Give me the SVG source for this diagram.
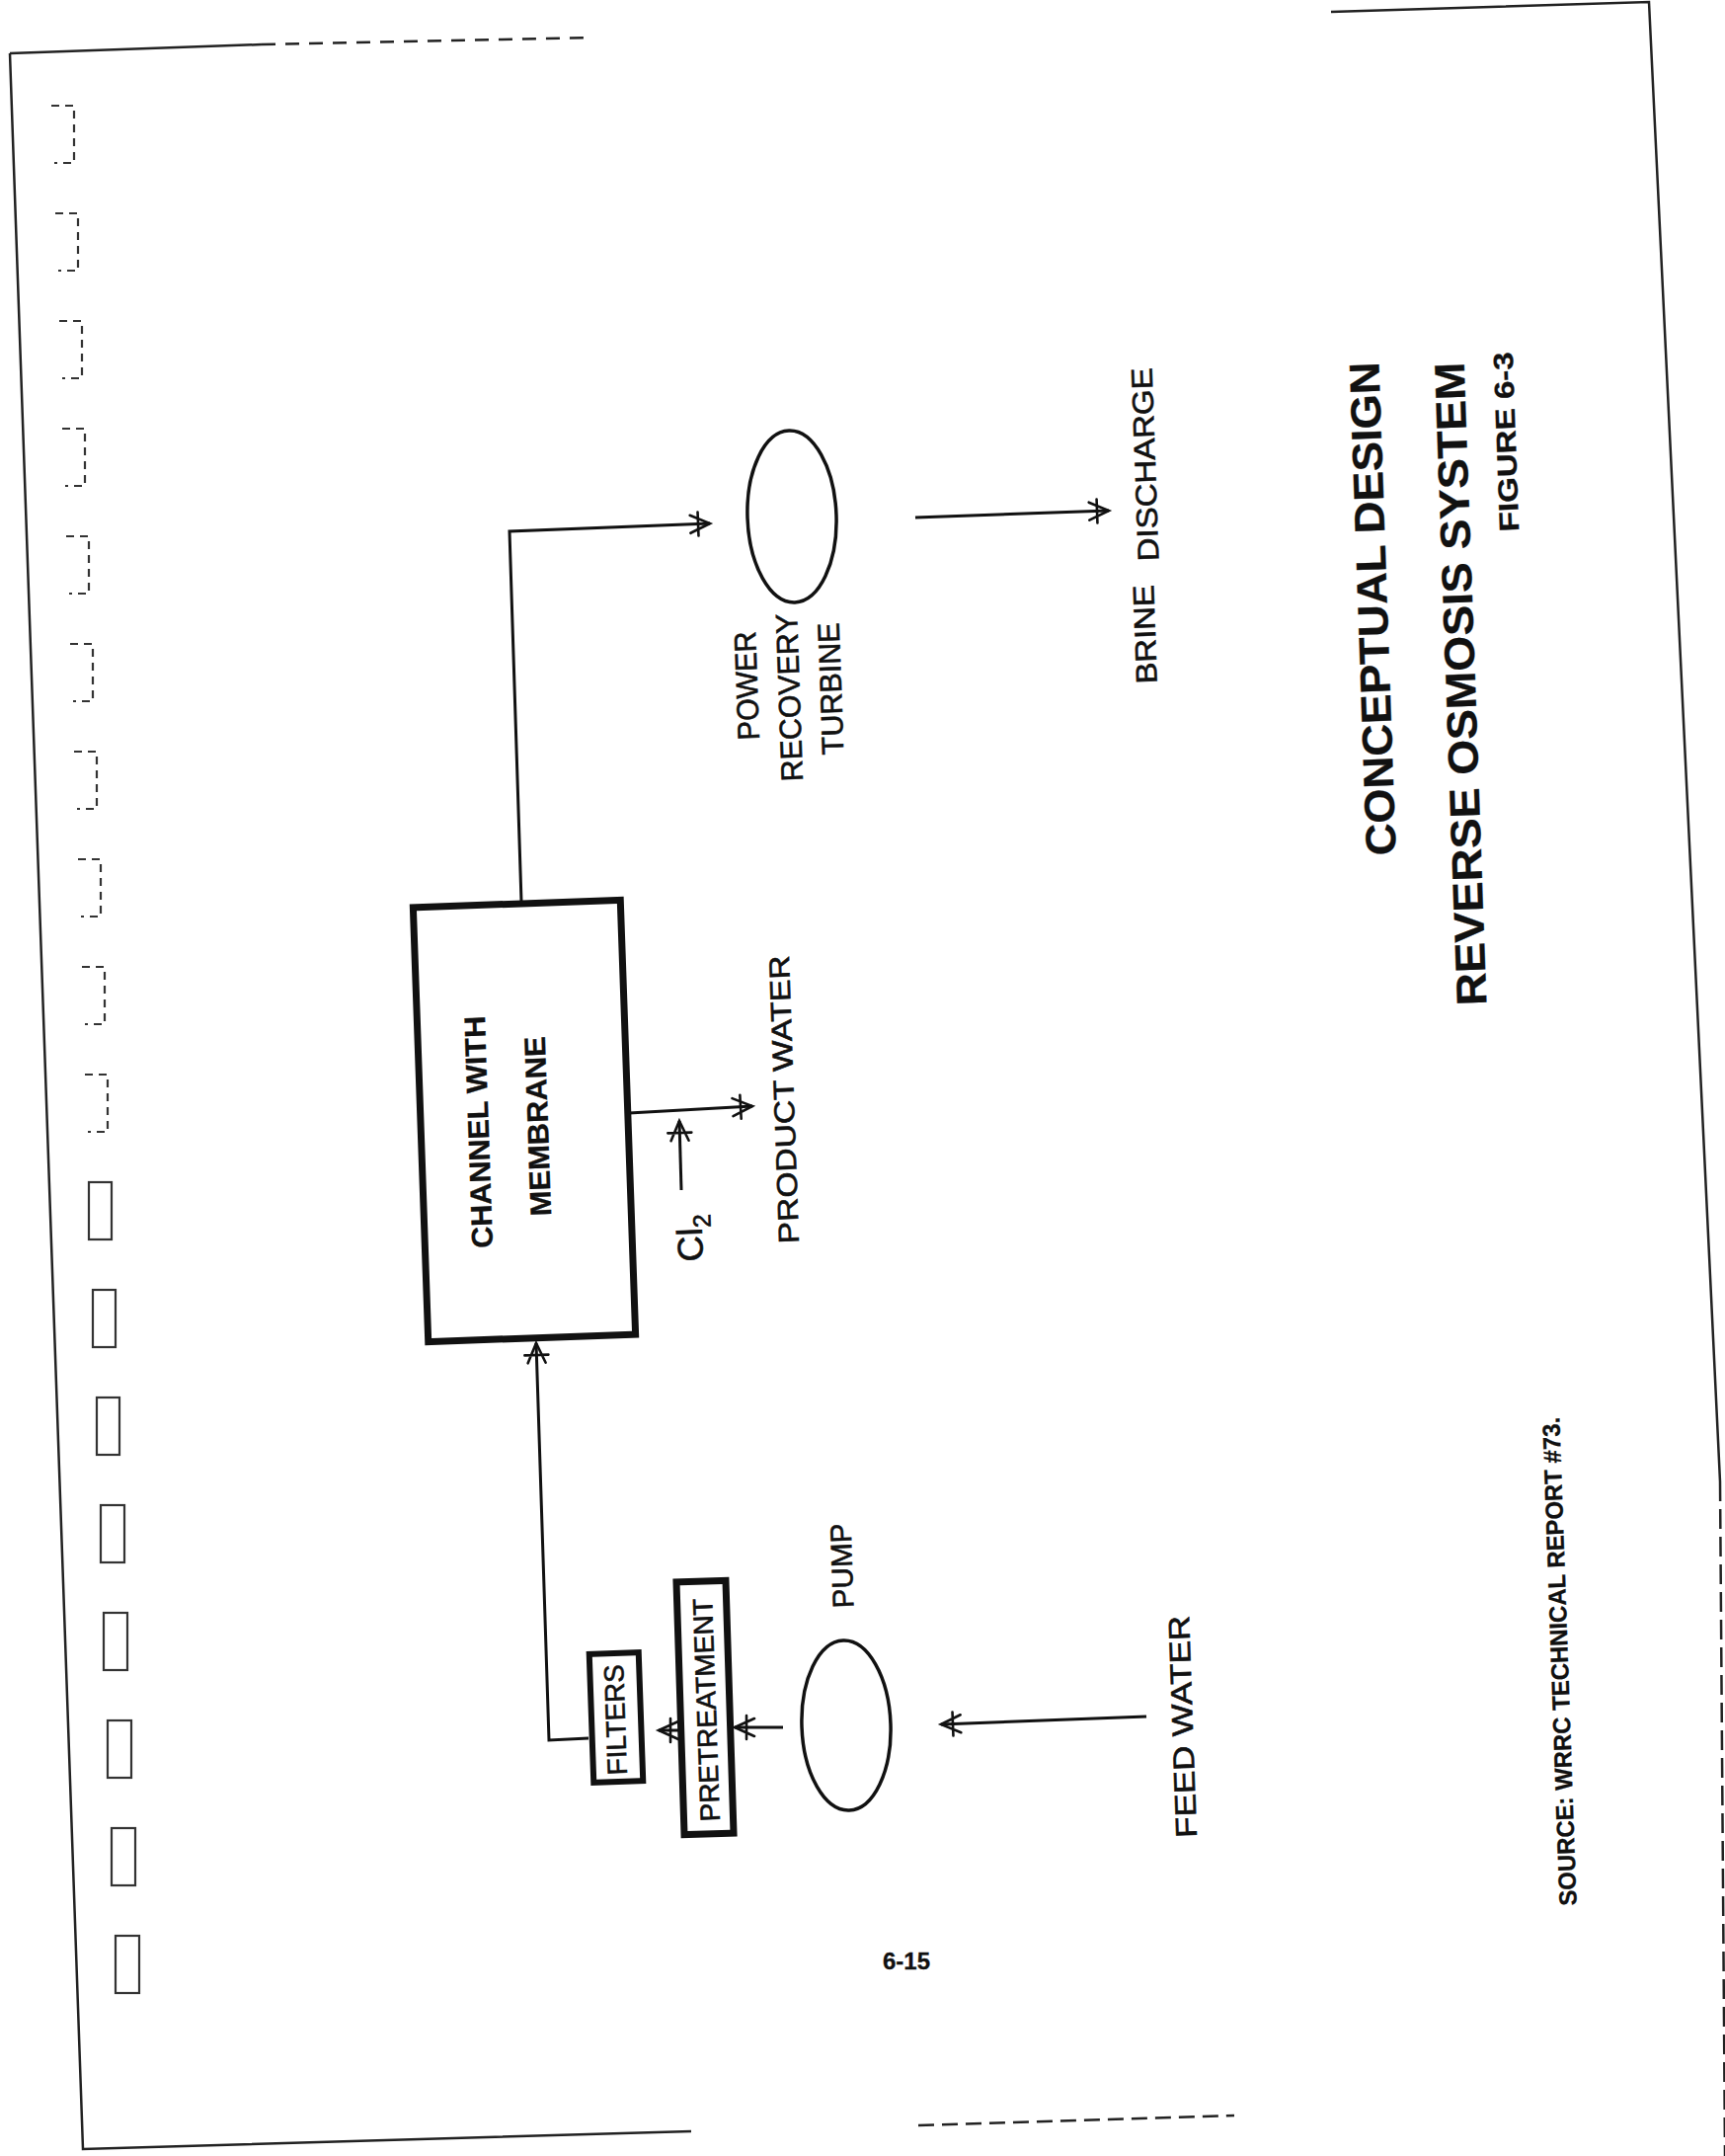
<svg xmlns="http://www.w3.org/2000/svg" width="1747" height="2183" viewBox="0 0 1747 2183">
<style>
.t{font-family:"Liberation Sans",Arial,sans-serif;fill:#111;text-anchor:middle;stroke:#111;stroke-width:0.6}
.b{font-weight:bold;stroke-width:0.3}
.box{fill:none;stroke:#111;stroke-linejoin:miter}
.ell{fill:none;stroke:#111;stroke-width:3.5}
.con{fill:none;stroke:#111;stroke-width:3}
.edge{fill:none;stroke:#222;stroke-width:2.5}
.mark{fill:none;stroke:#333;stroke-width:2.2}
</style>
<defs>
<marker id="arr" markerUnits="userSpaceOnUse" viewBox="-24 -15 26 30" refX="0" refY="0" markerWidth="26" markerHeight="30" orient="auto" overflow="visible">
<path d="M-20,-9 L0,0 L-20,9 M-12,-12 L-12,12" fill="none" stroke="#111" stroke-width="2.6" stroke-linecap="round"/>
</marker>
</defs>
<rect width="1747" height="2183" fill="#fff"/>

<g id="page-edge">
<path class="edge" d="M10,54 L265,45"/>
<path class="edge" d="M265,45 L600,38" stroke-dasharray="14 10"/>
<path class="edge" d="M1348,12 L1670,2 L1742,1500"/>
<path class="edge" d="M1742,1500 L1747,2183" stroke-dasharray="20 8"/>
<path class="edge" d="M10,54 L84,2176 L700,2158"/>
<path class="edge" d="M930,2152 L1250,2142" stroke-dasharray="16 8"/>
</g>

<g id="binder-marks">
<path class="mark" d="M52,107 h23 v58 h-20" stroke-dasharray="8 6"/>
<path class="mark" d="M56,216 h23 v58 h-20" stroke-dasharray="8 6"/>
<path class="mark" d="M60,325 h23 v58 h-20" stroke-dasharray="8 6"/>
<path class="mark" d="M63,434 h23 v58 h-20" stroke-dasharray="8 6"/>
<path class="mark" d="M67,543 h23 v58 h-20" stroke-dasharray="8 6"/>
<path class="mark" d="M71,652 h23 v58 h-20" stroke-dasharray="8 6"/>
<path class="mark" d="M75,761 h23 v58 h-20" stroke-dasharray="8 6"/>
<path class="mark" d="M79,870 h23 v58 h-20" stroke-dasharray="8 6"/>
<path class="mark" d="M83,979 h23 v58 h-20" stroke-dasharray="8 6"/>
<path class="mark" d="M86,1088 h23 v58 h-20" stroke-dasharray="8 6"/>
<rect class="mark" x="90" y="1197" width="23" height="58"/>
<rect class="mark" x="94" y="1306" width="23" height="58"/>
<rect class="mark" x="98" y="1415" width="23" height="58"/>
<rect class="mark" x="102" y="1524" width="24" height="58"/>
<rect class="mark" x="105" y="1633" width="24" height="58"/>
<rect class="mark" x="109" y="1742" width="24" height="58"/>
<rect class="mark" x="113" y="1851" width="24" height="58"/>
<rect class="mark" x="117" y="1960" width="24" height="58"/>
</g>

<g id="connectors">
<polyline class="con" points="528,913 516,538 719,530" marker-end="url(#arr)"/>
<line class="con" x1="927" y1="524" x2="1123" y2="517" marker-end="url(#arr)"/>
<line class="con" x1="637" y1="1127" x2="762" y2="1120" marker-end="url(#arr)"/>
<line class="con" x1="690" y1="1205" x2="688" y2="1135" marker-end="url(#arr)"/>
<polyline class="con" points="596,1760 556,1762 543,1360" marker-end="url(#arr)"/>
<line class="con" x1="687" y1="1752" x2="667" y2="1752" marker-end="url(#arr)"/>
<line class="con" x1="793" y1="1749" x2="744" y2="1749" marker-end="url(#arr)"/>
<line class="con" x1="1161" y1="1738" x2="953" y2="1746" marker-end="url(#arr)"/>
</g>

<g id="channel">
<rect class="box" x="426" y="915" width="210" height="440" stroke-width="7" transform="rotate(-2 531 1135)"/>
<text class="t b" font-size="30" textLength="235" lengthAdjust="spacingAndGlyphs" transform="translate(495,1146) rotate(-92)">CHANNEL WITH</text>
<text class="t b" font-size="30" textLength="182" lengthAdjust="spacingAndGlyphs" transform="translate(555,1140) rotate(-92)">MEMBRANE</text>
</g>

<g id="product-water">
<text class="t" font-size="29" textLength="292" lengthAdjust="spacingAndGlyphs" transform="translate(804,1113) rotate(-92)">PRODUCT  WATER</text>
</g>

<g id="chlorine">
<text class="t" font-size="36" style="text-anchor:start" transform="translate(712,1277) rotate(-92)">Cl<tspan font-size="25" dy="9">2</tspan></text>
</g>

<g id="filters">
<rect class="box" x="599" y="1674" width="50" height="130" stroke-width="6" transform="rotate(-2 624 1739)"/>
<text class="t" font-size="28" textLength="112" lengthAdjust="spacingAndGlyphs" transform="translate(633,1741) rotate(-92)">FILTERS</text>
</g>

<g id="pretreatment">
<rect class="box" x="689" y="1601" width="50" height="256" stroke-width="7" transform="rotate(-1.8 714 1729)"/>
<text class="t" font-size="28" textLength="226" lengthAdjust="spacingAndGlyphs" transform="translate(725,1731) rotate(-92)">PRETREATMENT</text>
</g>

<g id="pump">
<ellipse class="ell" cx="857" cy="1747" rx="45" ry="86" transform="rotate(-2 857 1747)"/>
<text class="t" font-size="30" textLength="86" lengthAdjust="spacingAndGlyphs" transform="translate(863,1585) rotate(-92)">PUMP</text>
</g>

<g id="feed-water">
<text class="t" font-size="30" textLength="225" lengthAdjust="spacingAndGlyphs" transform="translate(1208,1748) rotate(-92)">FEED WATER</text>
</g>

<g id="turbine">
<ellipse class="ell" cx="802" cy="523" rx="45" ry="87" transform="rotate(-2 802 523)"/>
<text class="t" font-size="31" textLength="110" lengthAdjust="spacingAndGlyphs" transform="translate(767,694) rotate(-92)">POWER</text>
<text class="t" font-size="31" textLength="170" lengthAdjust="spacingAndGlyphs" transform="translate(810,706) rotate(-92)">RECOVERY</text>
<text class="t" font-size="31" textLength="134" lengthAdjust="spacingAndGlyphs" transform="translate(852,697) rotate(-92)">TURBINE</text>
</g>

<g id="brine-discharge">
<text class="t" font-size="30" textLength="100" lengthAdjust="spacingAndGlyphs" transform="translate(1170,642) rotate(-92)">BRINE</text>
<text class="t" font-size="30" textLength="196" lengthAdjust="spacingAndGlyphs" transform="translate(1170,470) rotate(-92)">DISCHARGE</text>
</g>

<g id="title">
<text class="t b" font-size="43" textLength="500" lengthAdjust="spacingAndGlyphs" transform="translate(1405,616) rotate(-92)">CONCEPTUAL DESIGN</text>
<text class="t b" font-size="43" textLength="652" lengthAdjust="spacingAndGlyphs" transform="translate(1494,692) rotate(-92)">REVERSE OSMOSIS SYSTEM</text>
<text class="t b" font-size="28" textLength="182" lengthAdjust="spacingAndGlyphs" transform="translate(1535,447) rotate(-92)">FIGURE 6-3</text>
</g>

<g id="source">
<text class="t b" font-size="25" textLength="495" lengthAdjust="spacingAndGlyphs" transform="translate(1588,1682) rotate(-92)">SOURCE: WRRC TECHNICAL REPORT #73.</text>
</g>

<g id="page-number">
<text class="t b" font-size="24" x="918" y="1994">6-15</text>
</g>
</svg>
